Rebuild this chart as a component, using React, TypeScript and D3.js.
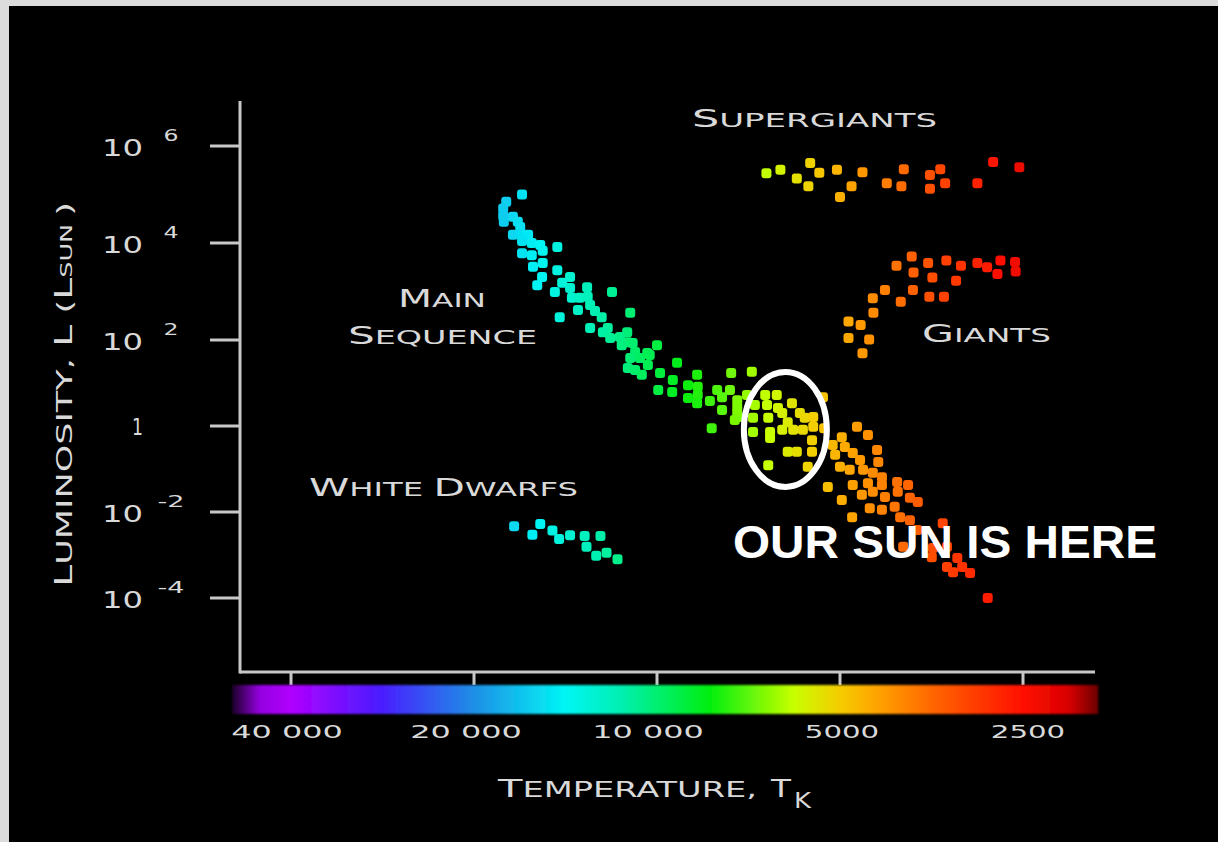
import React from 'react';
import * as d3 from 'd3';

// ---------- DATA (log10 T in kelvin, log10 L in solar luminosities) ----------
const mainSequence: [number, number][] = [
  [4.222, 5.0], [4.248, 4.85], [4.253, 4.71], [4.253, 4.56], [4.252, 4.44], [4.237, 4.54], [4.229, 4.44], [4.225, 4.33], [4.237, 4.17], [4.222, 4.17], [4.212, 4.17],
  [4.222, 4.04], [4.206, 4.0], [4.192, 3.96], [4.188, 3.84], [4.164, 3.92], [4.222, 3.79], [4.206, 3.75], [4.188, 3.59], [4.204, 3.51], [4.164, 3.44],
  [4.143, 3.3], [4.189, 3.3], [4.197, 3.13], [4.156, 3.18], [4.168, 2.99], [4.143, 3.07], [4.115, 3.09], [4.14, 2.87], [4.127, 2.87], [4.114, 2.89],
  [4.074, 2.99], [4.13, 2.62], [4.11, 2.72], [4.102, 2.6], [4.091, 2.47], [4.16, 2.47], [4.044, 2.56], [4.11, 2.25], [4.081, 2.25], [4.049, 2.16],
  [4.089, 2.16], [4.077, 2.04], [4.061, 2.06], [4.058, 1.88], [4.048, 1.95], [4.04, 1.93], [4.036, 1.72], [4.044, 1.58], [4.028, 1.58], [4.012, 1.65],
  [4.0, 1.88], [4.015, 1.42], [4.048, 1.35], [4.036, 1.3], [4.025, 1.19], [3.995, 1.23], [3.967, 1.47], [3.974, 1.07], [3.998, 0.84], [3.975, 0.79],
  [3.949, 0.95], [3.934, 1.19], [3.933, 0.91], [3.933, 0.72], [3.949, 0.65], [3.934, 0.53], [3.913, 0.58], [3.901, 0.84], [3.893, 0.37], [3.878, 1.23],
  [3.844, 1.26], [4.016, 1.7], [3.88, 0.84], [3.893, 0.67], [3.91, -0.05], [3.868, 0.44], [3.867, 0.21], [3.852, 0.72], [3.868, 0.6], [3.868, 0.3],
  [3.872, 0.14], [3.822, 0.72], [3.803, 0.72], [3.778, 0.53], [3.839, 0.49], [3.819, 0.49], [3.801, 0.42], [3.842, 0.19], [3.817, 0.19], [3.794, 0.3],
  [3.785, 0.09], [3.765, 0.3], [3.757, 0.19], [3.743, 0.21], [3.776, -0.09], [3.76, -0.09], [3.743, -0.02], [3.842, -0.14], [3.814, -0.14], [3.794, -0.09],
  [3.814, -0.28], [3.745, -0.33], [3.785, -0.6], [3.77, -0.6], [3.817, -0.91], [3.745, -0.6], [3.752, -0.95], [3.727, 0.67], [3.725, -0.05],
  [3.671, -0.02], [3.653, -0.21], [3.696, -0.26], [3.711, -0.44], [3.691, -0.49], [3.638, -0.56], [3.707, -0.67], [3.678, -0.63], [3.666, -0.79], [3.636, -0.84],
  [3.699, -0.95], [3.683, -1.02], [3.661, -1.02], [3.645, -1.09], [3.63, -1.19], [3.719, -1.42], [3.678, -1.37], [3.653, -1.33], [3.63, -1.37], [3.605, -1.3],
  [3.587, -1.37], [3.696, -1.72], [3.663, -1.6], [3.645, -1.53], [3.625, -1.65], [3.604, -1.53], [3.584, -1.67], [3.571, -1.77], [3.609, -1.88], [3.65, -1.91],
  [3.63, -1.95], [3.6, -2.12], [3.584, -2.19], [3.679, -2.12], [3.572, -2.42], [3.53, -2.26], [3.595, -2.81], [3.546, -2.84], [3.523, -2.81], [3.506, -3.07],
  [3.523, -3.28], [3.498, -3.28], [3.485, -3.42], [3.513, -3.4], [3.456, -4.0], [3.548, -3.05],
];

const giants: [number, number][] = [
  [3.581, 3.72], [3.606, 3.53], [3.578, 3.39], [3.554, 3.59], [3.524, 3.64], [3.5, 3.53], [3.547, 3.29], [3.508, 3.22], [3.473, 3.59], [3.457, 3.5],
  [3.435, 3.64], [3.44, 3.36], [3.411, 3.61], [3.41, 3.41], [3.625, 3.03], [3.579, 3.03], [3.552, 2.89], [3.528, 2.89], [3.599, 2.79], [3.645, 2.86],
  [3.644, 2.56], [3.685, 2.38], [3.665, 2.31], [3.685, 2.04], [3.651, 2.01], [3.662, 1.69],
];

const supergiants: [number, number][] = [
  [3.82, 5.44], [3.797, 5.51], [3.77, 5.33], [3.748, 5.65], [3.733, 5.45], [3.751, 5.17], [3.704, 5.51], [3.662, 5.46], [3.68, 5.17], [3.699, 4.95],
  [3.622, 5.23], [3.594, 5.52], [3.598, 5.17], [3.551, 5.4], [3.534, 5.52], [3.551, 5.12], [3.526, 5.23], [3.473, 5.23], [3.447, 5.67], [3.404, 5.56],
];

const whiteDwarfs: [number, number][] = [
  [4.235, -2.33], [4.192, -2.28], [4.205, -2.53], [4.172, -2.43], [4.161, -2.63], [4.143, -2.54], [4.119, -2.56], [4.116, -2.81], [4.093, -2.56], [4.1, -3.02],
  [4.083, -2.95], [4.065, -3.1],
];

const yTickExps = [6, 4, 2, 0, -2, -4];
const xTicks = [40000, 20000, 10000, 5000, 2500];
const xTickLabels = ['40 000', '20 000', '10 000', '5000', '2500'];

const spectrumTemps = [50000, 45000, 40000, 28500, 20000, 14200, 11400, 8200, 5950, 5000, 4300, 3450, 2500, 2100, 1880];
const spectrumColors = ['#1c0028', '#9400e0', '#b000ff', '#4a1cff', '#1f8fe6', '#00f5f5', '#00f0b0', '#00ee10', '#c8ff00', '#f5cc00', '#ffa000', '#ff6000', '#ff1000', '#d80000', '#6a0000'];

const sunT = 6150;
const sunLogL = -0.08;

// ---------- LAYOUT / STYLE ----------
const W = 1218;
const H = 842;
const yTickPx = [146, 243, 340, 426, 512, 598];
const xTickNudge = [-4, -8, -9, 2, 5];
const starTint = 1.1; // star colours sit slightly redder than the bar
const FONT = "'DejaVu Sans', sans-serif";
const TXT = '#d9d9d9';

function Caps({ parts, x, y, len, anchor = 'start' }: { parts: [string, number][]; x: number; y: number; len: number; anchor?: string }) {
  return (
    <text x={x} y={y} fill={TXT} fontFamily={FONT} textLength={len} lengthAdjust="spacingAndGlyphs" textAnchor={anchor}>
      {parts.map(([t, s], i) => (
        <tspan key={i} fontSize={s}>{t}</tspan>
      ))}
    </text>
  );
}

export default function App() {
  const x = d3.scaleLog().domain([40000, 2500]).range([291, 1023]);
  const y = d3.scaleLinear().domain(yTickExps).range(yTickPx);
  const color = d3
    .scaleLog<string>()
    .domain(spectrumTemps)
    .range(spectrumColors)
    .interpolate(d3.interpolateRgb)
    .clamp(true);

  const barX0 = x(spectrumTemps[0]);
  const barX1 = x(spectrumTemps[spectrumTemps.length - 1]);
  const axisX = 240;
  const axisY = 672;

  const groups = [mainSequence, giants, supergiants, whiteDwarfs];
  const B = 24;
  const S = 19;

  return (
    <svg width={W} height={H} style={{ position: 'absolute', left: 0, top: 0, display: 'block' }}>
      <defs>
        <linearGradient id="spectrum" x1="0" x2="1" y1="0" y2="0">
          {spectrumTemps.map((t, i) => (
            <stop key={i} offset={(x(t) - barX0) / (barX1 - barX0)} stopColor={spectrumColors[i]} />
          ))}
        </linearGradient>
        <filter id="soft" x="-20%" y="-20%" width="140%" height="140%">
          <feGaussianBlur stdDeviation="0.7" />
        </filter>
        <filter id="barGlow" x="-5%" y="-30%" width="110%" height="160%">
          <feGaussianBlur stdDeviation="1.2" />
        </filter>
      </defs>
      <rect x={0} y={0} width={W} height={H} fill="#dcdcdc" />
      <rect x={9} y={6} width={W - 9} height={H - 6} fill="#000" />

      {/* axes */}
      <g stroke="#c8c8c8" strokeWidth={3} fill="none">
        <line x1={axisX} y1={101} x2={axisX} y2={axisY + 1.5} />
        <line x1={axisX} y1={axisY} x2={1095} y2={axisY} />
        {yTickExps.map((e) => (
          <line key={e} x1={210} x2={axisX} y1={y(e)} y2={y(e)} />
        ))}
        {xTicks.map((t) => (
          <line key={t} x1={x(t)} x2={x(t)} y1={axisY} y2={685} />
        ))}
      </g>

      {/* colour bar */}
      <rect x={barX0} y={685} width={barX1 - barX0} height={29} fill="url(#spectrum)" filter="url(#barGlow)" />

      {/* y tick labels */}
      {yTickExps.map((e) =>
        e === 0 ? (
          <text key={e} x={143} y={y(e) + 9} fill={TXT} fontFamily={FONT} fontSize={23} textAnchor="end" textLength={11} lengthAdjust="spacingAndGlyphs">
            1
          </text>
        ) : (
          <g key={e}>
            <text x={143} y={y(e) + 10} fill={TXT} fontFamily={FONT} fontSize={23} textAnchor="end" textLength={41} lengthAdjust="spacingAndGlyphs">
              10
            </text>
            <text x={171} y={y(e) - 5} fill={TXT} fontFamily={FONT} fontSize={16} textAnchor="middle" textLength={e < 0 ? 27 : 15} lengthAdjust="spacingAndGlyphs">
              {e < 0 ? `-${-e}` : `${e}`}
            </text>
          </g>
        )
      )}

      {/* x tick labels */}
      {xTicks.map((t, i) => (
        <text key={t} x={x(t) + xTickNudge[i]} y={738} fill={TXT} fontFamily={FONT} fontSize={18} textAnchor="middle" textLength={xTickLabels[i].length * 18.6} lengthAdjust="spacingAndGlyphs">
          {xTickLabels[i]}
        </text>
      ))}

      {/* axis titles */}
      <Caps parts={[['T', 25], ['EMPERATURE,', 21]]} x={498} y={797} len={259} />
      <text x={771} y={797} fill={TXT} fontFamily={FONT} fontSize={25} textLength={20} lengthAdjust="spacingAndGlyphs">T</text>
      <text x={794} y={808} fill={TXT} fontFamily={FONT} fontSize={21} textLength={17} lengthAdjust="spacingAndGlyphs">K</text>

      <g transform="translate(72,587) rotate(-90)">
        <text x={0} y={0} fill={TXT} fontFamily={FONT} textLength={385} lengthAdjust="spacingAndGlyphs">
          <tspan fontSize={25}>L</tspan>
          <tspan fontSize={22}>UMINOSITY, </tspan>
          <tspan fontSize={25}>L</tspan>
          <tspan fontSize={22}> (</tspan>
          <tspan fontSize={25}>L</tspan>
          <tspan fontSize={16}>SUN </tspan>
          <tspan fontSize={22}>)</tspan>
        </text>
      </g>

      {/* stars */}
      <g filter="url(#soft)">
        {groups.map((g, gi) =>
          g.map(([lt, ll], i) => {
            const T = Math.pow(10, lt);
            return (
              <rect key={`${gi}-${i}`} x={x(T) - 5} y={y(ll) - 5} width={10} height={10} rx={3} fill={color(T / starTint)} />
            );
          })
        )}
      </g>

      {/* region labels */}
      <Caps parts={[['S', B], ['UPERGIANTS', S]]} x={692} y={127} len={245} />
      <Caps parts={[['M', B], ['AIN', S]]} x={398} y={307} len={88} />
      <Caps parts={[['S', B], ['EQUENCE', S]]} x={348} y={344} len={189} />
      <Caps parts={[['G', B], ['IANTS', S]]} x={922} y={342} len={129} />
      <Caps parts={[['W', B], ['HITE ', S], ['D', B], ['WARFS', S]]} x={309} y={496} len={269} />

      {/* sun annotation */}
      <ellipse cx={x(sunT)} cy={y(sunLogL)} rx={41.5} ry={57.5} fill="none" stroke="#fff" strokeWidth={6} />
      <text x={733} y={558} fill="#fff" fontFamily="'Liberation Sans', Arial, sans-serif" fontWeight="bold" fontSize={47} textLength={424} lengthAdjust="spacingAndGlyphs">
        OUR SUN IS HERE
      </text>
    </svg>
  );
}
